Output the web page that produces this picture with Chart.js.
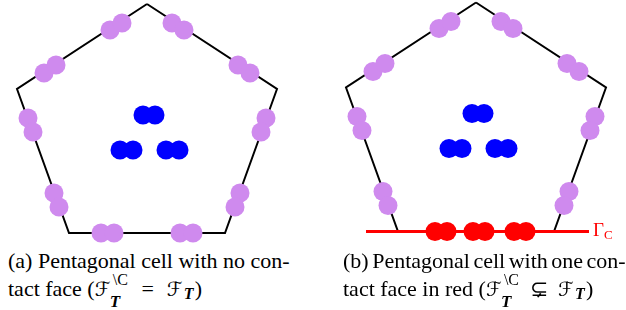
<!DOCTYPE html>
<html>
<head>
<meta charset="utf-8">
<script src="https://cdn.jsdelivr.net/npm/chart.js"></script>
<style>
  body { margin: 0; background: #fff; width: 626px; height: 310px; position: relative; overflow: hidden;
         font-family: "Liberation Serif", "Times New Roman", Times, "DejaVu Serif", serif; color: #000; }
  .panel { position: absolute; top: 0; width: 313px; height: 245px; }
  .cap { position: absolute; font-size: 22px; line-height: 22px; white-space: nowrap; }
  .F { display: inline-block; width: 17px; font-family: "DejaVu Serif", "DejaVu Sans", serif; font-style: italic; font-size: 20px; }
  .ss { display: inline-block; position: relative; width: 17px; height: 1px; }
  .ss .sup { position: absolute; left: 1px; top: -23px; font-size: 16px; line-height: 16px; }
  .ss .sub { position: absolute; left: -2px; top: -2px; font-size: 17px; line-height: 17px; font-weight: bold; font-style: italic; }
  .rel { display: inline-block; width: 38px; text-align: center; }
  .tsub { display: inline-block; width: 11px; font-size: 16px; font-weight: bold; font-style: italic; position: relative; top: 3px; }
  .gamma { position: absolute; left: 593px; top: 220px; color: #f00; font-size: 19px; line-height: 19px; }
  .gamma sub { font-size: 13px; vertical-align: baseline; position: relative; top: 3px; }
</style>
</head>
<body>
<div class="panel" style="left:0"><canvas id="cellA" width="313" height="245"></canvas></div>
<div class="panel" style="left:313px"><canvas id="cellB" width="313" height="245"></canvas></div>
<div class="gamma">Γ<sub>C</sub></div>

<div class="cap" style="left:8px; top:250px; word-spacing:0px">(a) Pentagonal cell with no con-</div>
<div class="cap" style="left:8px; top:278px">tact face (<span class="F">ℱ</span><span class="ss"><span class="sup">\C</span><span class="sub">T</span></span><span class="rel">=</span><span class="F">ℱ</span><span class="tsub">T</span>)</div>
<div class="cap" style="left:343px; top:250px; word-spacing:-2px">(b) Pentagonal cell with one con-</div>
<div class="cap" style="left:343px; top:278px">tact face in red (<span class="F">ℱ</span><span class="ss"><span class="sup">\C</span><span class="sub">T</span></span><span class="rel">⊊</span><span class="F">ℱ</span><span class="tsub">T</span>)</div>

<script>
// cell coordinates: x from the top vertex, y downward (same units as pixels)
var pentagonX = [0, 130, 78, -78, -130, 0];
var pentagonY = [4, 89, 233, 233, 89, 4];

// two quadrature points on each face
var faceDotX = [-37, -25, 25, 37, -103, -91, 91, 103, -119, -114, 119, 114, -93, -88, 93, 88, -46, -33, 33, 46];
var faceDotY = [30, 23, 23, 30, 73, 65, 65, 73, 118, 132, 118, 132, 193, 207, 193, 207, 233, 233, 233, 233];

// interior points
var cellDotX = [-4, 8, -27, -14, 19, 32];
var cellDotY = [115, 115, 150, 150, 150, 150];

// contact face (panel b)
var contactX = [-110, 113];
var contactY = [233, 233];
var contactDotX = [-41, -29, -3, 9, 38, 50];
var contactDotY = [233, 233, 233, 233, 233, 233];

function pts(xs, ys) {
  return xs.map(function (x, i) { return { x: x, y: ys[i] }; });
}

function drawCell(id, xmin, xmax, yshift, contact) {
  var ctx = document.getElementById(id).getContext("2d");
  var bottomX = contact ? faceDotX.slice(0, 16) : faceDotX;
  var bottomY = contact ? faceDotY.slice(0, 16) : faceDotY;
  var datasets = [
    { data: pts(bottomX, bottomY), backgroundColor: "#cf8aee", pointRadius: 9.5, borderWidth: 0, order: 1 },
    { data: pts(cellDotX, cellDotY), backgroundColor: "#0000ff", pointRadius: 9.5, borderWidth: 0, order: 1 },
    { data: pts(pentagonX, pentagonY), showLine: true, borderColor: "#000", borderWidth: 2, pointRadius: 0, order: 3 }
  ];
  if (contact) {
    datasets.unshift({ data: pts(contactDotX, contactDotY), backgroundColor: "#ff0000", pointRadius: 9.5, borderWidth: 0, order: 1 });
    datasets.push({ data: pts(contactX, contactY), showLine: true, borderColor: "#ff0000", borderWidth: 3, pointRadius: 0, order: 2 });
  }
  new Chart(ctx, {
    type: "scatter",
    data: { datasets: datasets },
    options: {
      responsive: false,
      animation: false,
      clip: false,
      layout: { padding: 0, autoPadding: false },
      plugins: { legend: { display: false }, tooltip: { enabled: false } },
      elements: { line: { tension: 0, borderCapStyle: "butt", borderJoinStyle: "miter" }, point: { hoverRadius: 9.5 } },
      scales: {
        x: { type: "linear", min: xmin, max: xmax, display: false },
        y: { type: "linear", min: yshift, max: 245 + yshift, reverse: true, display: false }
      }
    }
  });
}

drawCell("cellA", -147, 166, 0, false);
drawCell("cellB", -163, 150, 1.5, true);
</script>
</body>
</html>
